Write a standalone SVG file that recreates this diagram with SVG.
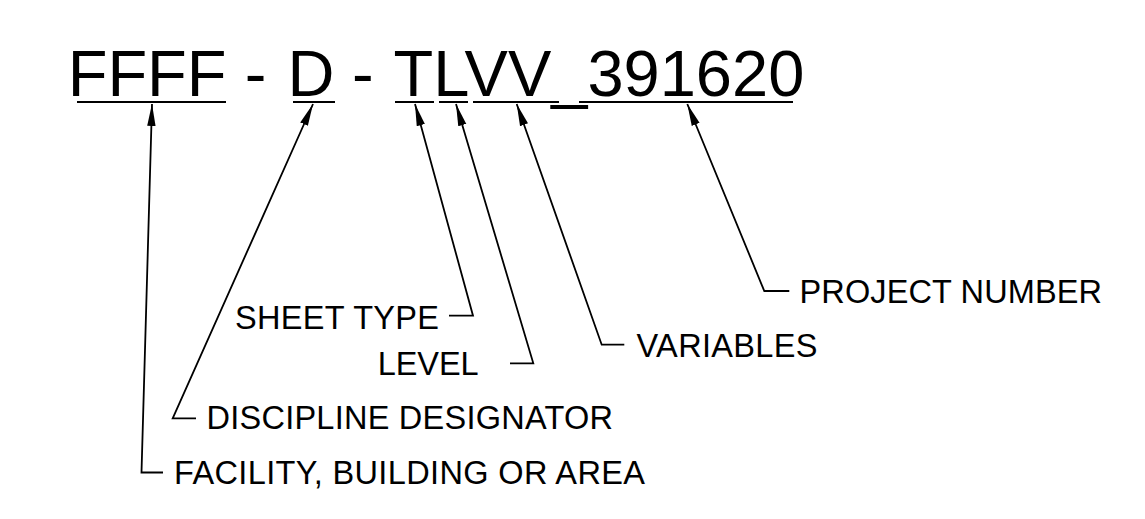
<svg xmlns="http://www.w3.org/2000/svg" width="1145" height="519" viewBox="0 0 1145 519">
<style>
.t{font-family:"Liberation Sans",Arial,sans-serif;fill:#000}
.big{font-size:65px}
.lbl{font-size:32.5px}
.ul{stroke:#000;stroke-width:2;fill:none}
.ld{stroke:#000;stroke-width:1.8;fill:none;marker-start:url(#ah)}
</style>
<defs>
<marker id="ah" markerUnits="userSpaceOnUse" orient="auto-start-reverse" markerWidth="26" markerHeight="14" refX="22" refY="5" viewBox="0 0 26 10">
<path d="M22,5 L0,0.8 L0,9.2 Z" fill="#000"/>
</marker>
</defs>
<rect width="1145" height="519" fill="#fff"/>
<g id="title">
<text class="t big" x="67.7" y="96">FFFF</text>
<text class="t big" x="244.8" y="96">-</text>
<text class="t big" x="287.6" y="96">D</text>
<text class="t big" x="352.1" y="96">-</text>
<text class="t big" x="393.5" y="96">TLVV_391620</text>
<line class="ul" x1="77" y1="102" x2="226" y2="102"/>
<line class="ul" x1="293" y1="102" x2="335" y2="102"/>
<line class="ul" x1="395" y1="102" x2="434" y2="102"/>
<line class="ul" x1="439" y1="102" x2="468" y2="102"/>
<line class="ul" x1="473" y1="102" x2="559" y2="102"/>
<line class="ul" x1="579" y1="102" x2="793" y2="102"/>
</g>
<g id="n-facility"><text class="t lbl" x="174" y="484" textLength="471" lengthAdjust="spacing">FACILITY, BUILDING OR AREA</text></g>
<g id="n-discipline"><text class="t lbl" x="206.5" y="429" textLength="406.5" lengthAdjust="spacing">DISCIPLINE DESIGNATOR</text></g>
<g id="n-sheettype"><text class="t lbl" x="235" y="329" textLength="204" lengthAdjust="spacing">SHEET TYPE</text></g>
<g id="n-level"><text class="t lbl" x="377.7" y="375" textLength="101" lengthAdjust="spacing">LEVEL</text></g>
<g id="n-variables"><text class="t lbl" x="636.5" y="356.5" textLength="181" lengthAdjust="spacing">VARIABLES</text></g>
<g id="n-project"><text class="t lbl" x="799.5" y="302.6" textLength="302.5" lengthAdjust="spacing">PROJECT NUMBER</text></g>
<g id="connectors">
<polyline class="ld" points="152,104 141.5,472.5 163,472.5"/>
<polyline class="ld" points="313,104 172.7,418.3 196,418.3"/>
<polyline class="ld" points="415,104 473,315.7 449,315.7"/>
<polyline class="ld" points="456,104 533.3,363.3 510,363.3"/>
<polyline class="ld" points="516.7,104 601.7,344.7 624.3,344.7"/>
<polyline class="ld" points="687.3,104 764.3,291 789.3,291"/>
</g>
</svg>
